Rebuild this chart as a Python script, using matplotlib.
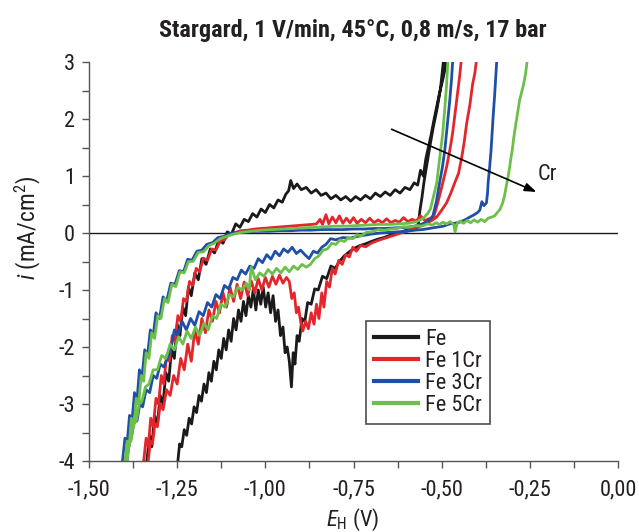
import matplotlib
matplotlib.use("Agg")
import matplotlib.pyplot as plt
from matplotlib import font_manager as fm
from matplotlib.ticker import MultipleLocator, FuncFormatter

# pick a condensed sans font if one is installed
_names = {f.name for f in fm.fontManager.ttflist}
_cond = [f for f in fm.fontManager.ttflist if f.stretch in ("condensed", "semi-condensed", "extra-condensed")]
FAM, STRETCH = "Liberation Sans", "normal"
for cand in ["Liberation Sans Narrow", "Roboto Condensed", "DejaVu Sans Condensed",
             "Open Sans Condensed", "Noto Sans Condensed"]:
    if cand in _names:
        FAM = cand
        break
else:
    for f in _cond:
        if f.name in ("DejaVu Sans", "Noto Sans", "Open Sans", "Roboto", "Inter"):
            FAM, STRETCH = f.name, "condensed"
            break
    else:
        for n in sorted(_names):
            if "Narrow" in n or "Condensed" in n:
                FAM = n
                break

plt.rcParams['font.family'] = [FAM, 'DejaVu Sans']
plt.rcParams['font.stretch'] = STRETCH
plt.rcParams['mathtext.fontset'] = 'custom'
plt.rcParams['mathtext.rm'] = FAM
plt.rcParams['mathtext.it'] = FAM + ':italic'

# ---------------- data (E_H in V, i in mA/cm2) ----------------
labels = ["Fe", "Fe 1Cr", "Fe 3Cr", "Fe 5Cr"]
colors = ["#1a1a1a", "#e3262b", "#1f4fa6", "#6cc04a"]

fe_x = [-1.336, -1.328, -1.322, -1.314, -1.306, -1.298, -1.290, -1.282, -1.274, -1.266,
        -1.258, -1.250, -1.242, -1.234, -1.226, -1.218, -1.210, -1.200, -1.190, -1.180,
        -1.168, -1.156, -1.144, -1.132, -1.120, -1.108, -1.096, -1.084, -1.072, -1.060,
        -1.048, -1.036, -1.024, -1.012, -1.000, -0.988, -0.976, -0.964, -0.952, -0.942,
        -0.934, -0.928, -0.920, -0.910, -0.898, -0.884, -0.870, -0.856, -0.842, -0.828,
        -0.814, -0.800, -0.786, -0.772, -0.758, -0.744, -0.730, -0.716, -0.702, -0.688,
        -0.674, -0.660, -0.646, -0.632, -0.618, -0.604, -0.590, -0.578, -0.568, -0.560,
        -0.552, -0.545, -0.538, -0.530, -0.522, -0.514, -0.506, -0.498, -0.490, -0.482,
        -0.490, -0.504, -0.514, -0.524, -0.534, -0.542, -0.550, -0.556, -0.562, -0.566,
        -0.576, -0.592, -0.610, -0.628, -0.646, -0.664, -0.682, -0.700, -0.716, -0.732,
        -0.748, -0.762, -0.776, -0.790, -0.802, -0.814, -0.826, -0.838, -0.850, -0.860,
        -0.870, -0.880, -0.888, -0.896, -0.904, -0.910, -0.916, -0.921, -0.926, -0.932,
        -0.938, -0.944, -0.950, -0.957, -0.964, -0.971, -0.978, -0.985, -0.992, -0.999,
        -1.006, -1.013, -1.020, -1.027, -1.034, -1.041, -1.048, -1.055, -1.062, -1.069,
        -1.076, -1.083, -1.090, -1.097, -1.104, -1.111, -1.118, -1.125, -1.132, -1.139,
        -1.146, -1.153, -1.160, -1.167, -1.174, -1.181, -1.188, -1.195, -1.202, -1.209,
        -1.216, -1.223, -1.230, -1.237, -1.243, -1.248]
fe_y = [-4.00, -3.55, -3.75, -3.20, -3.35, -2.85, -3.00, -2.45, -2.60, -2.05,
        -2.20, -1.60, -1.80, -1.30, -1.45, -0.95, -1.10, -0.70, -0.82, -0.45,
        -0.55, -0.28, -0.35, -0.12, -0.18, 0.02, -0.02, 0.16, 0.10, 0.24,
        0.20, 0.34, 0.28, 0.42, 0.36, 0.50, 0.44, 0.58, 0.54, 0.68,
        0.74, 0.92, 0.78, 0.86, 0.76, 0.80, 0.70, 0.76, 0.66, 0.70,
        0.60, 0.66, 0.58, 0.64, 0.56, 0.64, 0.58, 0.66, 0.60, 0.70,
        0.64, 0.72, 0.66, 0.76, 0.70, 0.80, 0.76, 0.88, 0.84, 1.10,
        1.00, 1.30, 1.50, 1.72, 1.98, 2.22, 2.46, 2.66, 2.88, 3.30,
        3.30, 2.50, 2.15, 1.85, 1.50, 1.20, 0.90, 0.62, 0.38, 0.16,
        0.10, 0.06, 0.03, -0.01, -0.04, -0.08, -0.11, -0.15, -0.19, -0.22,
        -0.27, -0.33, -0.40, -0.50, -0.62, -0.58, -0.80, -0.76, -1.00, -0.98,
        -1.25, -1.22, -1.55, -1.50, -1.90, -1.80, -2.30, -2.10, -2.70, -2.25,
        -2.00, -2.10, -1.65, -1.80, -1.35, -1.55, -1.10, -1.40, -1.05, -1.30,
        -0.95, -1.25, -1.00, -1.35, -0.98, -1.30, -1.10, -1.45, -1.20, -1.55,
        -1.35, -1.70, -1.50, -1.90, -1.70, -2.05, -1.85, -2.20, -2.05, -2.40,
        -2.25, -2.60, -2.45, -2.80, -2.65, -2.95, -2.85, -3.15, -3.05, -3.35,
        -3.25, -3.55, -3.45, -3.75, -3.70, -4.00]

fe1_x = [-1.345, -1.338, -1.332, -1.325, -1.318, -1.310, -1.303, -1.295, -1.288, -1.280,
         -1.272, -1.264, -1.256, -1.248, -1.240, -1.232, -1.224, -1.215, -1.206, -1.196,
         -1.186, -1.176, -1.164, -1.152, -1.140, -1.128, -1.116, -1.104, -1.090, -1.070,
         -1.050, -1.030, -1.010, -0.990, -0.970, -0.950, -0.930, -0.910, -0.890, -0.870,
         -0.855, -0.845, -0.838, -0.828, -0.820, -0.810, -0.800, -0.790, -0.780, -0.770,
         -0.760, -0.750, -0.740, -0.728, -0.716, -0.704, -0.692, -0.680, -0.668, -0.656,
         -0.644, -0.632, -0.620, -0.608, -0.596, -0.584, -0.572, -0.560, -0.548, -0.536,
         -0.525, -0.514, -0.500, -0.486, -0.477, -0.469, -0.462, -0.455, -0.449, -0.440,
         -0.396, -0.406, -0.412, -0.420, -0.429, -0.436, -0.443, -0.452, -0.463, -0.474,
         -0.486, -0.500, -0.514, -0.528, -0.543, -0.560, -0.580, -0.600, -0.620, -0.640,
         -0.660, -0.680, -0.700, -0.715, -0.730, -0.742, -0.752, -0.762, -0.772, -0.782,
         -0.792, -0.802, -0.810, -0.818, -0.826, -0.834, -0.840, -0.848, -0.855, -0.862,
         -0.870, -0.878, -0.886, -0.894, -0.900, -0.906, -0.912, -0.918, -0.925, -0.932,
         -0.940, -0.950, -0.960, -0.970, -0.980, -0.990, -1.000, -1.010, -1.020, -1.030,
         -1.040, -1.050, -1.060, -1.070, -1.080, -1.090, -1.100, -1.110, -1.120, -1.130,
         -1.140, -1.150, -1.160, -1.170, -1.180, -1.190, -1.200, -1.210, -1.220, -1.230,
         -1.240, -1.250, -1.260, -1.270, -1.280, -1.290, -1.298, -1.306, -1.313, -1.320,
         -1.326, -1.332]
fe1_y = [-4.00, -3.60, -3.75, -3.25, -3.40, -2.90, -3.00, -2.50, -2.65, -2.15,
         -2.25, -1.80, -1.90, -1.45, -1.55, -1.15, -1.20, -0.85, -0.92, -0.62,
         -0.68, -0.44, -0.48, -0.28, -0.30, -0.14, -0.12, -0.03, 0.00, 0.04,
         0.05, 0.07, 0.08, 0.09, 0.10, 0.11, 0.12, 0.13, 0.14, 0.15,
         0.16, 0.24, 0.15, 0.32, 0.16, 0.28, 0.18, 0.30, 0.17, 0.26,
         0.18, 0.27, 0.17, 0.24, 0.18, 0.26, 0.18, 0.23, 0.18, 0.25,
         0.18, 0.22, 0.19, 0.27, 0.20, 0.24, 0.21, 0.30, 0.22, 0.25,
         0.24, 0.46, 0.80, 1.16, 1.45, 1.75, 2.10, 2.46, 2.75, 3.30,
         3.30, 2.80, 2.62, 2.25, 1.93, 1.60, 1.33, 1.05, 0.88, 0.70,
         0.53, 0.40, 0.28, 0.22, 0.17, 0.12, 0.07, 0.03, -0.01, -0.05,
         -0.09, -0.13, -0.18, -0.24, -0.22, -0.32, -0.25, -0.42, -0.38, -0.55,
         -0.48, -0.72, -0.62, -0.95, -0.85, -1.30, -1.05, -1.50, -1.25, -1.60,
         -1.40, -1.68, -1.55, -1.72, -1.55, -1.30, -1.40, -1.05, -1.15, -0.85,
         -0.78, -0.88, -0.74, -0.90, -0.76, -0.95, -0.78, -1.00, -0.80, -1.05,
         -0.84, -1.10, -0.86, -1.15, -0.90, -1.20, -0.95, -1.30, -1.05, -1.40,
         -1.20, -1.55, -1.35, -1.75, -1.50, -1.95, -1.70, -2.25, -1.95, -2.40,
         -2.20, -2.65, -2.50, -2.85, -2.75, -3.10, -3.00, -3.40, -3.35, -3.70,
         -3.65, -4.00]

fe3_x = [-1.405, -1.398, -1.392, -1.385, -1.378, -1.371, -1.364, -1.357, -1.350, -1.342,
         -1.334, -1.326, -1.318, -1.310, -1.300, -1.290, -1.280, -1.268, -1.256, -1.244,
         -1.232, -1.220, -1.208, -1.194, -1.180, -1.166, -1.150, -1.134, -1.118, -1.100,
         -1.080, -1.050, -1.020, -0.990, -0.960, -0.930, -0.900, -0.870, -0.840, -0.810,
         -0.780, -0.750, -0.720, -0.690, -0.660, -0.630, -0.600, -0.575, -0.555, -0.540,
         -0.525, -0.515, -0.506, -0.498, -0.491, -0.484, -0.477, -0.472, -0.466,
         -0.341, -0.347, -0.350, -0.354, -0.357, -0.360, -0.364, -0.368, -0.370, -0.373,
         -0.380, -0.386, -0.392, -0.398, -0.408, -0.420, -0.434, -0.449, -0.463, -0.477,
         -0.495, -0.515, -0.535, -0.555, -0.575, -0.600, -0.625, -0.650, -0.675, -0.700,
         -0.720, -0.740, -0.760, -0.780, -0.800, -0.815, -0.828, -0.840, -0.852, -0.864,
         -0.876, -0.888, -0.900, -0.912, -0.924, -0.936, -0.948, -0.960, -0.972, -0.984,
         -0.996, -1.008, -1.020, -1.032, -1.044, -1.056, -1.068, -1.080, -1.092, -1.104,
         -1.116, -1.128, -1.140, -1.152, -1.164, -1.176, -1.188, -1.200, -1.212, -1.224,
         -1.236, -1.248, -1.258, -1.268, -1.278, -1.288, -1.298, -1.308, -1.318, -1.328,
         -1.338, -1.348, -1.356, -1.364, -1.372, -1.380, -1.386, -1.392]
fe3_y = [-4.00, -3.60, -3.70, -3.20, -3.30, -2.80, -2.95, -2.40, -2.55, -2.05,
         -2.15, -1.70, -1.80, -1.40, -1.50, -1.12, -1.20, -0.88, -0.90, -0.66,
         -0.68, -0.46, -0.48, -0.32, -0.30, -0.20, -0.17, -0.08, -0.06, -0.01,
         0.01, 0.02, 0.03, 0.03, 0.04, 0.04, 0.05, 0.05, 0.06, 0.06,
         0.06, 0.07, 0.07, 0.08, 0.08, 0.09, 0.10, 0.12, 0.16, 0.20,
         0.30, 0.55, 0.88, 1.15, 1.46, 1.90, 2.33, 2.70, 3.30,
         3.30, 2.70, 2.40, 2.05, 1.75, 1.45, 1.15, 0.90, 0.70, 0.53,
         0.48, 0.55, 0.40, 0.36, 0.32, 0.28, 0.23, 0.19, 0.17, 0.16,
         0.12, 0.10, 0.08, 0.06, 0.05, 0.03, 0.02, 0.01, 0.00, -0.02,
         -0.04, -0.06, -0.09, -0.08, -0.12, -0.10, -0.20, -0.25, -0.35, -0.32,
         -0.45, -0.38, -0.30, -0.36, -0.25, -0.34, -0.28, -0.40, -0.32, -0.46,
         -0.38, -0.52, -0.45, -0.62, -0.58, -0.72, -0.65, -0.82, -0.78, -0.98,
         -0.92, -1.15, -1.08, -1.30, -1.22, -1.45, -1.38, -1.62, -1.50, -1.70,
         -1.55, -1.80, -1.70, -2.05, -2.20, -2.35, -2.30, -2.55, -2.50, -2.80,
         -2.75, -3.05, -3.00, -3.30, -3.30, -3.60, -3.65, -4.00]

fe5_x = [-1.398, -1.392, -1.386, -1.380, -1.373, -1.366, -1.359, -1.352, -1.345, -1.338,
         -1.330, -1.322, -1.314, -1.305, -1.296, -1.286, -1.276, -1.265, -1.254, -1.242,
         -1.230, -1.218, -1.205, -1.190, -1.175, -1.160, -1.145, -1.128, -1.110, -1.090,
         -1.070, -1.040, -1.010, -0.980, -0.950, -0.920, -0.890, -0.860, -0.830, -0.800,
         -0.770, -0.740, -0.710, -0.680, -0.650, -0.620, -0.595, -0.570, -0.552, -0.540,
         -0.532, -0.524, -0.514, -0.506, -0.497, -0.491, -0.486, -0.480,
         -0.252, -0.262, -0.268, -0.274, -0.279, -0.285, -0.290, -0.296, -0.300, -0.304,
         -0.307, -0.312, -0.316, -0.322, -0.327, -0.334, -0.342, -0.350, -0.358, -0.368,
         -0.378, -0.388, -0.398, -0.408, -0.418, -0.428, -0.438, -0.448, -0.456, -0.462,
         -0.466, -0.476, -0.486, -0.496, -0.506, -0.516, -0.526, -0.540, -0.556, -0.572,
         -0.590, -0.608, -0.626, -0.644, -0.662, -0.680, -0.698, -0.714, -0.728, -0.740,
         -0.752, -0.764, -0.776, -0.788, -0.800, -0.812, -0.824, -0.836, -0.848, -0.860,
         -0.872, -0.884, -0.896, -0.908, -0.920, -0.932, -0.944, -0.956, -0.968, -0.980,
         -0.992, -1.004, -1.016, -1.028, -1.040, -1.046, -1.054, -1.066, -1.078, -1.090,
         -1.102, -1.114, -1.126, -1.138, -1.150, -1.162, -1.174, -1.186, -1.198, -1.210,
         -1.222, -1.234, -1.246, -1.258, -1.270, -1.282, -1.294, -1.306, -1.318, -1.330,
         -1.340, -1.350, -1.358, -1.366, -1.374, -1.381, -1.387, -1.392]
fe5_y = [-4.00, -3.65, -3.75, -3.25, -3.40, -2.90, -3.00, -2.50, -2.60, -2.10,
         -2.20, -1.75, -1.85, -1.45, -1.50, -1.15, -1.22, -0.90, -0.94, -0.68,
         -0.70, -0.50, -0.50, -0.34, -0.33, -0.22, -0.18, -0.10, -0.06, -0.02,
         0.01, 0.03, 0.05, 0.06, 0.07, 0.08, 0.09, 0.10, 0.11, 0.12,
         0.12, 0.13, 0.14, 0.15, 0.15, 0.16, 0.17, 0.20, 0.26, 0.34,
         0.42, 0.62, 0.88, 1.30, 1.75, 2.20, 2.60, 3.30,
         3.30, 2.80, 2.60, 2.45, 2.33, 2.10, 1.90, 1.65, 1.45, 1.30,
         1.16, 0.98, 0.85, 0.65, 0.53, 0.42, 0.36, 0.30, 0.28, 0.26,
         0.20, 0.24, 0.19, 0.23, 0.18, 0.22, 0.17, 0.21, 0.17, 0.02,
         0.15, 0.20, 0.16, 0.19, 0.15, 0.18, 0.14, 0.16, 0.12, 0.13,
         0.10, 0.11, 0.08, 0.07, 0.05, 0.06, 0.02, 0.01, -0.05, -0.03,
         -0.10, -0.08, -0.15, -0.12, -0.20, -0.18, -0.28, -0.30, -0.40, -0.45,
         -0.55, -0.60, -0.55, -0.64, -0.58, -0.68, -0.60, -0.70, -0.62, -0.72,
         -0.64, -0.76, -0.70, -0.82, -0.60, -1.00, -0.88, -1.00, -0.95, -1.12,
         -1.08, -1.30, -1.25, -1.50, -1.45, -1.70, -1.58, -1.80, -1.65, -1.85,
         -1.72, -1.95, -1.82, -2.05, -1.95, -2.20, -2.15, -2.40, -2.40, -2.65,
         -2.70, -2.95, -3.00, -3.30, -3.35, -3.65, -3.70, -4.00]

series_x = [fe_x, fe1_x, fe3_x, fe5_x]
series_y = [fe_y, fe1_y, fe3_y, fe5_y]

title = "Stargard, 1 V/min, 45°C, 0,8 m/s, 17 bar"
x_ticks = [-1.50, -1.25, -1.00, -0.75, -0.50, -0.25, 0.00]
y_ticks = [-4, -3, -2, -1, 0, 1, 2, 3]
arrow_start = (-0.642, 1.82)
arrow_end = (-0.231, 0.72)
arrow_label = "Cr"
arrow_label_pos = (-0.228, 1.03)

# ---------------- figure ----------------
W, H = 639, 532
fig = plt.figure(figsize=(W / 100, H / 100), dpi=100)
ax = fig.add_axes([89 / W, 71 / H, 529 / W, 399 / H])

ax.axhline(0, color="#1a1a1a", lw=1.0, zorder=1.5)
for xs, ys, c, lab in zip(series_x, series_y, colors, labels):
    ax.plot(xs, ys, color=c, lw=2.0, label=lab, zorder=2, solid_joinstyle="round")

ax.set_xlim(-1.5, 0.0)
ax.set_ylim(-4, 3)
ax.set_xticks(x_ticks)
ax.set_yticks(y_ticks)
ax.xaxis.set_minor_locator(MultipleLocator(0.125))
ax.yaxis.set_minor_locator(MultipleLocator(0.5))
ax.xaxis.set_major_formatter(FuncFormatter(lambda v, p: f"{v:.2f}".replace(".", ",").replace("-0,00", "0,00")))
ax.yaxis.set_major_formatter(FuncFormatter(lambda v, p: f"{int(round(v))}"))

for s in ("top", "right"):
    ax.spines[s].set_visible(False)
for s in ("left", "bottom"):
    ax.spines[s].set_color("#555555")
    ax.spines[s].set_linewidth(1.0)
ax.tick_params(which="both", direction="out", length=5, width=1.0, color="#555555",
               labelsize=16, labelcolor="#231f20")
ax.tick_params(axis="x", pad=8)
ax.tick_params(axis="y", pad=5)

ax.annotate("", xy=arrow_end, xytext=arrow_start,
            arrowprops=dict(arrowstyle="-|>,head_length=0.7,head_width=0.25",
                            color="black", lw=1.2, shrinkA=0, shrinkB=0))
ax.text(arrow_label_pos[0], arrow_label_pos[1], arrow_label, fontsize=16,
        ha="left", va="center", color="#231f20")

leg = ax.legend(loc="upper left", bbox_to_anchor=(0.524, 0.351), borderaxespad=0,
                fontsize=16, frameon=True, fancybox=False, handlelength=2.0,
                handletextpad=0.3, labelspacing=0.05, borderpad=0.35)
leg.get_frame().set_edgecolor("#231f20")
leg.get_frame().set_linewidth(1.2)
for line in leg.get_lines():
    line.set_linewidth(3.0)
for t in leg.get_texts():
    t.set_color("#231f20")

fig.text(353 / W, 1 - 30 / H, title, ha="center", va="center", fontsize=17.5,
         fontweight="bold", color="#231f20")
fig.text(353 / W, 1 - 520 / H, r"$\mathit{E}_{\mathrm{H}}$ (V)", ha="center",
         va="center", fontsize=16, color="#231f20")
fig.text(28 / W, 1 - 228 / H, r"$\mathit{i}$ (mA/cm$^{2}$)", ha="center",
         va="center", rotation=90, fontsize=17, color="#231f20")

fig.savefig("out.png", dpi=100)
